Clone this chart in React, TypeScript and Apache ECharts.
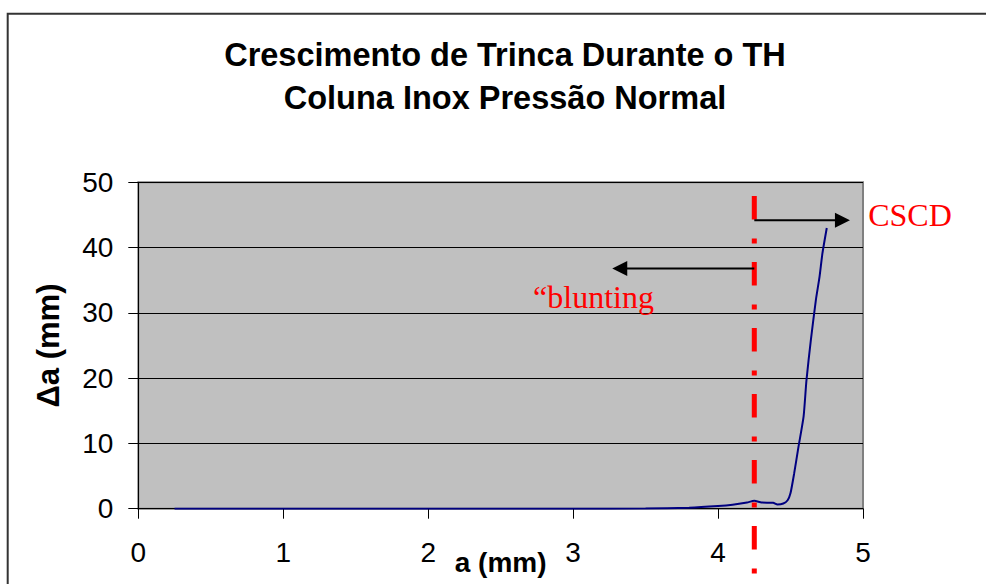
import React, { useEffect, useRef } from "react";
import * as echarts from "echarts";

// ---- data ----
const TITLE_LINES = ["Crescimento de Trinca Durante o TH", "Coluna Inox Pressão Normal"];
const X_NAME = "a (mm)";
const Y_NAME = "Δa (mm)";
const X_VALUES = [0.25, 1, 2, 3, 3.5, 3.8, 4.0, 4.1, 4.2, 4.25, 4.3, 4.38, 4.41, 4.45, 4.48, 4.5, 4.525, 4.555, 4.59, 4.61, 4.64, 4.675, 4.7, 4.72, 4.75];
const Y_VALUES = [0, 0, 0, 0, 0.02, 0.15, 0.4, 0.6, 0.95, 1.2, 0.95, 0.9, 0.65, 0.8, 1.3, 2.4, 5.4, 9.5, 14.1, 19.7, 25.8, 32, 35.5, 39.1, 43];
const X_TICKS = { min: 0, max: 5, interval: 1 };
const Y_TICKS = { min: 0, max: 50, interval: 10 };

// annotations (data coordinates)
const CUT_X = 4.25;
const CUT_Y_TOP = 47.9;
const CUT_Y_BOTTOM = -10.2;
const ARROW_RIGHT = { y: 44.2, toX: 4.91 };
const ARROW_LEFT = { y: 36.8, toX: 3.27 };
const LABEL_CSCD = { text: "CSCD", x: 5.036, y: 45.0 };
const LABEL_BLUNT = { text: "\u201cblunting", x: 2.724, y: 32.4 };

const SANS = "'Liberation Sans', Arial, sans-serif";
const SERIF = "'Liberation Serif', 'Times New Roman', serif";

export default function App() {
  const ref = useRef<HTMLDivElement>(null);

  useEffect(() => {
    if (!ref.current) return;
    const chart = echarts.init(ref.current, undefined, { renderer: "svg" });
    const data = X_VALUES.map((x, i) => [x, Y_VALUES[i]]);

    chart.setOption({
      animation: false,
      backgroundColor: "#ffffff",
      title: {
        text: TITLE_LINES.join("\n"),
        left: 505,
        top: 33,
        padding: 0,
        textAlign: "center",
        textStyle: {
          fontFamily: SANS,
          fontWeight: "bold",
          fontSize: 32.5,
          lineHeight: 43,
          color: "#000",
        },
      },
      grid: {
        left: 138.3,
        top: 182.3,
        width: 724.7,
        height: 326.4,
        show: true,
        backgroundColor: "#C0C0C0",
        borderColor: "#808080",
        borderWidth: 2,
        containLabel: false,
        outerBoundsMode: "none",
      },
      xAxis: {
        type: "value",
        min: X_TICKS.min,
        max: X_TICKS.max,
        interval: X_TICKS.interval,
        name: X_NAME,
        nameLocation: "middle",
        nameGap: 40,
        nameMoveOverlap: false,
        nameTextStyle: { fontFamily: SANS, fontWeight: "bold", fontSize: 28, color: "#000" },
        axisLine: { show: true, onZero: false, lineStyle: { color: "#000", width: 1 } },
        axisTick: { show: true, inside: false, length: 10, lineStyle: { color: "#000" } },
        axisLabel: { fontFamily: SANS, fontSize: 28, color: "#000", margin: 30 },
        splitLine: { show: false },
      },
      yAxis: {
        type: "value",
        min: Y_TICKS.min,
        max: Y_TICKS.max,
        interval: Y_TICKS.interval,
        name: Y_NAME,
        nameLocation: "middle",
        nameGap: 74,
        nameRotate: 90,
        nameMoveOverlap: false,
        nameTextStyle: { fontFamily: SANS, fontWeight: "bold", fontSize: 31, color: "#000" },
        axisLine: { show: true, onZero: false, lineStyle: { color: "#000", width: 1 } },
        axisTick: { show: true, inside: false, length: 10, lineStyle: { color: "#000" } },
        axisLabel: { fontFamily: SANS, fontSize: 28, color: "#000", margin: 25 },
        splitLine: { show: true, lineStyle: { color: "#000", width: 1 } },
      },
      series: [
        {
          type: "line",
          data,
          showSymbol: false,
          smooth: 0.2,
          lineStyle: { color: "#000080", width: 2 },
          z: 3,
        },
      ],
    });

    const px = (x: number, y: number) =>
      chart.convertToPixel({ xAxisIndex: 0, yAxisIndex: 0 }, [x, y]) as number[];

    const cutTop = px(CUT_X, CUT_Y_TOP);
    const cutBot = px(CUT_X, CUT_Y_BOTTOM);
    const rFrom = px(CUT_X, ARROW_RIGHT.y);
    const rTo = px(ARROW_RIGHT.toX, ARROW_RIGHT.y);
    const lFrom = px(CUT_X, ARROW_LEFT.y);
    const lTo = px(ARROW_LEFT.toX, ARROW_LEFT.y);
    const cscd = px(LABEL_CSCD.x, LABEL_CSCD.y);
    const blunt = px(LABEL_BLUNT.x, LABEL_BLUNT.y);
    const headLen = 15;
    const headHalf = 7.5;

    chart.setOption({
      graphic: [
        {
          type: "rect",
          shape: { x: 7.7, y: 13.7, width: 1000, height: 600 },
          style: { fill: "none", stroke: "#333", lineWidth: 2 },
          z: 10,
          silent: true,
        },
        {
          type: "line",
          shape: { x1: cutTop[0], y1: cutTop[1], x2: cutBot[0], y2: cutBot[1] },
          style: { stroke: "#FF0000", lineWidth: 5, lineDash: [23.5, 19, 5, 18.5] },
          z: 20,
        },
        {
          type: "line",
          shape: { x1: rFrom[0], y1: rFrom[1], x2: rTo[0] - headLen + 1, y2: rTo[1] },
          style: { stroke: "#000", lineWidth: 2 },
          z: 20,
        },
        {
          type: "polygon",
          shape: {
            points: [
              [rTo[0], rTo[1]],
              [rTo[0] - headLen, rTo[1] - headHalf],
              [rTo[0] - headLen, rTo[1] + headHalf],
            ],
          },
          style: { fill: "#000" },
          z: 20,
        },
        {
          type: "line",
          shape: { x1: lFrom[0], y1: lFrom[1], x2: lTo[0] + headLen - 1, y2: lTo[1] },
          style: { stroke: "#000", lineWidth: 2 },
          z: 20,
        },
        {
          type: "polygon",
          shape: {
            points: [
              [lTo[0], lTo[1]],
              [lTo[0] + headLen, lTo[1] - headHalf],
              [lTo[0] + headLen, lTo[1] + headHalf],
            ],
          },
          style: { fill: "#000" },
          z: 20,
        },
        {
          type: "text",
          x: cscd[0],
          y: cscd[1],
          style: {
            text: LABEL_CSCD.text,
            fill: "#FF0000",
            font: `32px ${SERIF}`,
            textAlign: "left",
            textVerticalAlign: "middle",
          },
          z: 20,
        },
        {
          type: "text",
          x: blunt[0],
          y: blunt[1],
          style: {
            text: LABEL_BLUNT.text,
            fill: "#FF0000",
            font: `32px ${SERIF}`,
            textAlign: "left",
            textVerticalAlign: "middle",
          },
          z: 20,
        },
      ],
    });

    return () => chart.dispose();
  }, []);

  return (
    <div
      ref={ref}
      style={{ position: "fixed", left: 0, top: 0, width: 986, height: 584 }}
    />
  );
}
